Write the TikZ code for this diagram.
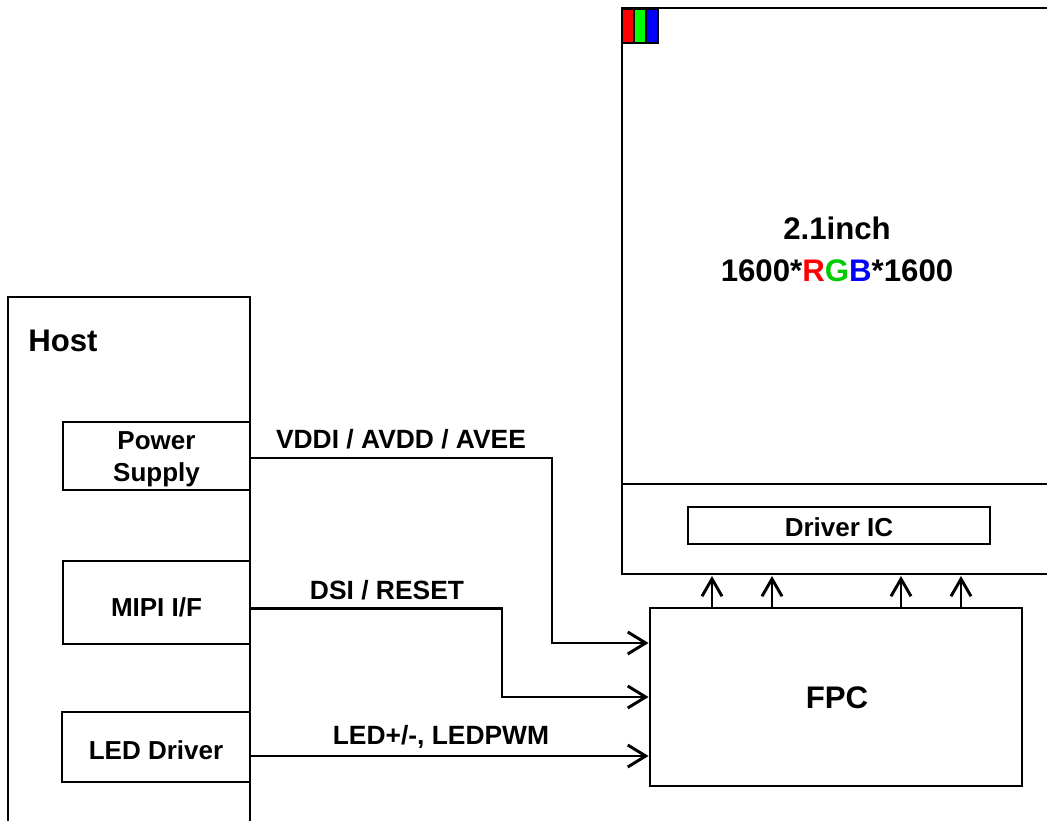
\documentclass[tikz,border=0pt]{standalone}
\usepackage{fontspec}
\setmainfont{Liberation Sans}
\usetikzlibrary{arrows.meta}
\definecolor{rgbR}{RGB}{255,0,0}
\definecolor{rgbG}{RGB}{0,255,0}
\definecolor{rgbB}{RGB}{0,0,255}
\definecolor{txtG}{RGB}{0,204,0}
\tikzset{
  box/.style={draw, line width=2.2pt, inner sep=0pt},
  btxt/.style={inner sep=0pt, align=center, font=\bfseries\fontsize{19.5pt}{24pt}\selectfont},
  lbl/.style={inner sep=0pt, font=\bfseries\fontsize{19.8pt}{23pt}\selectfont},
  big/.style={inner sep=0pt, align=center, font=\bfseries\fontsize{23.4pt}{31.5pt}\selectfont},
  wire/.style={line width=2.2pt},
  arr/.style={line width=2.2pt, -{Straight Barb[length=13.5pt,width=16.5pt,line width=2.2pt]}},
  uarr/.style={line width=2.2pt, -{Straight Barb[length=13pt,width=15pt,line width=2.2pt]}},
}
\begin{document}
\begin{tikzpicture}[x=0.75pt,y=-0.75pt]
\clip (0,0) rectangle (1047,821);
\fill[white] (0,0) rectangle (1047,821);

% Host outline (open at bottom)
\coordinate (hbl) at (8,830);
\coordinate (htl) at (8,297);
\coordinate (htr) at (250,297);
\coordinate (hbr) at (250,830);
\draw[wire] (hbl) -- (htl) -- (htr) -- (hbr);
\node[big, anchor=west] (host) at (28,341) {Host};

% Host blocks
\node[box, minimum width=187*0.75pt, minimum height=68*0.75pt] (ps) at (156.5,456) {};
\node[btxt] (pst) at ([yshift=-2.2pt]ps.center) {Power\\Supply};
\node[box, minimum width=187*0.75pt, minimum height=83*0.75pt] (mipi) at (156.5,602.5) {};
\node[btxt] (mipit) at ([yshift=-3.5pt]mipi.center) {MIPI I/F};
\node[box, minimum width=188*0.75pt, minimum height=70*0.75pt] (led) at (156,747) {};
\node[btxt] (ledt) at ([yshift=-2.5pt]led.center) {LED Driver};

% Panel (open at right)
\coordinate (ptr) at (1060,8);
\coordinate (ptl) at (622,8);
\coordinate (pbl) at (622,574);
\coordinate (pbr) at (1060,574);
\coordinate (dl) at (622,484);
\coordinate (dr) at (1060,484);
\draw[wire] (ptr) -- (ptl) -- (pbl) -- (pbr);
\draw[wire] (dl) -- (dr);

% RGB strip
\draw[line width=0.8pt, fill=rgbR] (622,9) rectangle (634,43);
\draw[line width=0.8pt, fill=rgbG] (634,9) rectangle (646,43);
\draw[line width=0.8pt, fill=rgbB] (646,9) rectangle (658,43);

\node[big] (ptxt) at (837,249) {2.1inch\\1600*\textcolor{rgbR}{R}\textcolor{txtG}{G}\textcolor{rgbB}{B}*1600};

\node[box, minimum width=302*0.75pt, minimum height=37*0.75pt] (dic) at (839,525.5) {};
\node[btxt] (dict) at ([yshift=-1.5pt]dic.center) {Driver IC};

% FPC
\node[box, minimum width=372*0.75pt, minimum height=178*0.75pt] (fpc) at (836,697) {};
\node[big] (fpct) at (837,698) {FPC};

% Connectors
\coordinate (v1) at (552,643);
\coordinate (v2) at (502,697);
\draw[arr] ([yshift=-1.5pt]ps.east) -| (v1) -- (v1 -| fpc.west);
\draw[arr] ([yshift=-4.5pt]mipi.east) -| (v2) -- (v2 -| fpc.west);
\draw[arr] ([yshift=-6.75pt]led.east) -- ([yshift=-6.75pt]led.east -| fpc.west);

\node[lbl] (l1) at (401,439) {VDDI / AVDD / AVEE};
\node[lbl] (l2) at (387,590) {DSI / RESET};
\node[lbl] (l3) at (441,737) {LED+/-, LEDPWM};

% Up arrows FPC -> panel
\coordinate (u1) at (712,0);
\coordinate (u2) at (772,0);
\coordinate (u3) at (901,0);
\coordinate (u4) at (961,0);
\coordinate (pb) at (622,576);
\foreach \u in {u1,u2,u3,u4}{
  \draw[uarr] (fpc.north -| \u) -- (pb -| \u);
}
\end{tikzpicture}
\end{document}
